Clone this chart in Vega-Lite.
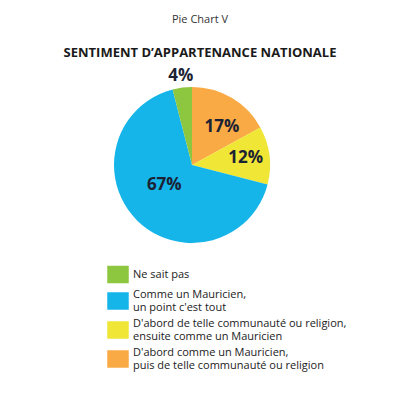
{
  "$schema": "https://vega.github.io/schema/vega-lite/v6.json",
  "autosize": {"type": "none"},
  "width": 384,
  "height": 210,
  "padding": {"left": 0, "top": 60, "right": 17, "bottom": 124},
  "background": "white",
  "title": {
    "text": "Pie Chart V",
    "subtitle": "SENTIMENT D’APPARTENANCE NATIONALE",
    "anchor": "middle",
    "frame": "group",
    "dx": 8,
    "offset": 0,
    "font": "Open Sans",
    "fontSize": 11,
    "fontWeight": "normal",
    "color": "#333333",
    "subtitleFont": "Open Sans",
    "subtitleFontSize": 13,
    "subtitleFontWeight": "bold",
    "subtitleColor": "#1a1a1a",
    "subtitlePadding": 22
  },
  "config": {
    "legend": {
      "orient": "none",
      "legendX": 109,
      "legendY": 205.5,
      "padding": 0,
      "symbolSize": 306,
      "symbolStrokeWidth": 0,
      "symbolOpacity": 1,
      "labelFont": "Open Sans",
      "labelFontSize": 11,
      "labelLineHeight": 13,
      "labelColor": "#222222",
      "labelOffset": 6,
      "labelLimit": 300,
      "labelBaseline": "middle",
      "rowPadding": 2
    }
  },
  "data": {
    "values": [
      {"categorie": "D'abord comme un Mauricien,|puis de telle communauté ou religion", "pct": 17, "etiquette": "17%", "ordre": 1},
      {"categorie": "D'abord de telle communauté ou religion,|ensuite comme un Mauricien", "pct": 12, "etiquette": "12%", "ordre": 2},
      {"categorie": "Comme un Mauricien,|un point c'est tout", "pct": 67, "etiquette": "67%", "ordre": 3},
      {"categorie": "Ne sait pas", "pct": 4, "etiquette": "4%", "ordre": 4}
    ]
  },
  "layer": [
    {
      "mark": {"type": "arc", "outerRadius": 78, "stroke": null},
      "encoding": {
        "theta": {"field": "pct", "type": "quantitative", "stack": true},
        "order": {"field": "ordre", "type": "quantitative", "sort": "ascending"},
        "color": {
          "field": "categorie",
          "type": "nominal",
          "scale": {
            "domain": ["Ne sait pas", "Comme un Mauricien,|un point c'est tout", "D'abord de telle communauté ou religion,|ensuite comme un Mauricien", "D'abord comme un Mauricien,|puis de telle communauté ou religion"],
            "range": ["#8dc63f", "#15b5ea", "#efe635", "#f9aa45"]
          },
          "legend": {"title": null, "labelExpr": "split(datum.label, '|')"}
        }
      }
    },
    {
      "mark": {"type": "point", "filled": true, "opacity": 0},
      "encoding": {
        "color": {
          "field": "categorie",
          "type": "nominal",
          "legend": {"title": null, "labelExpr": "split(datum.label, '|')"}
        },
        "shape": {
          "field": "categorie",
          "type": "nominal",
          "scale": {
            "domain": ["Ne sait pas", "Comme un Mauricien,|un point c'est tout", "D'abord de telle communauté ou religion,|ensuite comme un Mauricien", "D'abord comme un Mauricien,|puis de telle communauté ou religion"],
            "range": ["M-1.229,-1H1.229V1H-1.229Z", "M-1.229,-0.257H1.229V1.743H-1.229Z", "M-1.229,-0.257H1.229V1.743H-1.229Z", "M-1.229,-0.257H1.229V1.743H-1.229Z"]
          },
          "legend": {"title": null, "labelExpr": "split(datum.label, '|')"}
        }
      }
    },
    {
      "mark": {"type": "text", "radius": 49, "dx": 5, "dy": 4, "font": "Open Sans", "fontSize": 17, "fontWeight": "bold", "color": "#1b2233"},
      "encoding": {
        "theta": {"field": "pct", "type": "quantitative", "stack": true},
        "order": {"field": "ordre", "type": "quantitative", "sort": "ascending"},
        "text": {"condition": {"test": "datum.pct != 17", "value": ""}, "field": "etiquette", "type": "nominal"}
      }
    },
    {
      "mark": {"type": "text", "radius": 54, "font": "Open Sans", "fontSize": 17, "fontWeight": "bold", "color": "#1b2233"},
      "encoding": {
        "theta": {"field": "pct", "type": "quantitative", "stack": true},
        "order": {"field": "ordre", "type": "quantitative", "sort": "ascending"},
        "text": {"condition": {"test": "datum.pct != 12", "value": ""}, "field": "etiquette", "type": "nominal"}
      }
    },
    {
      "mark": {"type": "text", "radius": 35, "dx": -3, "dy": -5, "font": "Open Sans", "fontSize": 17, "fontWeight": "bold", "color": "#1b2233"},
      "encoding": {
        "theta": {"field": "pct", "type": "quantitative", "stack": true},
        "order": {"field": "ordre", "type": "quantitative", "sort": "ascending"},
        "text": {"condition": {"test": "datum.pct != 67", "value": ""}, "field": "etiquette", "type": "nominal"}
      }
    },
    {
      "mark": {"type": "text", "radius": 90, "font": "Open Sans", "fontSize": 17, "fontWeight": "bold", "color": "#1b2233"},
      "encoding": {
        "theta": {"field": "pct", "type": "quantitative", "stack": true},
        "order": {"field": "ordre", "type": "quantitative", "sort": "ascending"},
        "text": {"condition": {"test": "datum.pct != 4", "value": ""}, "field": "etiquette", "type": "nominal"}
      }
    }
  ]
}
